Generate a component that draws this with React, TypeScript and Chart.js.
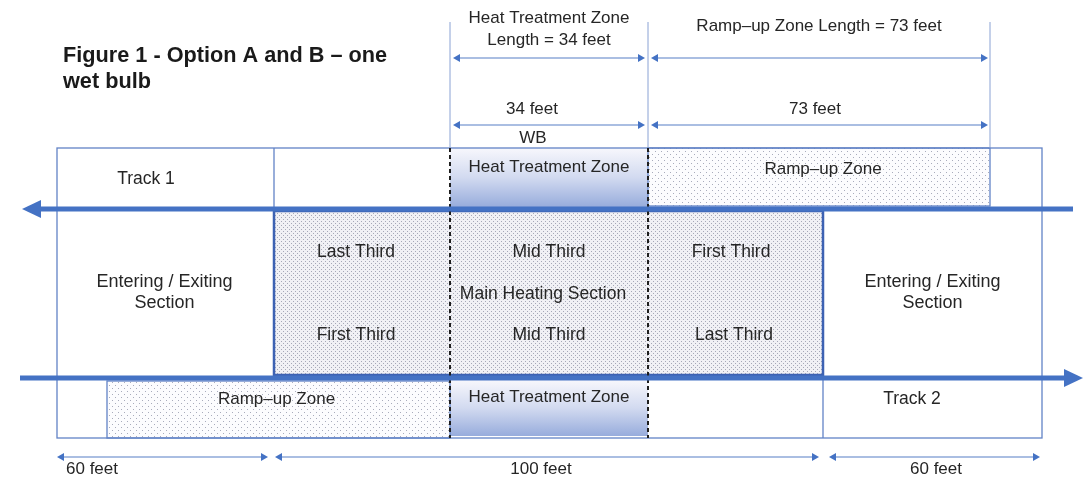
import React, { useEffect, useRef } from "react";
import { Chart, registerables } from "chart.js";

Chart.register(...registerables);

// ---- Content / values ----
const titleLines = ["Figure 1 - Option A and B – one", "wet bulb"];
const sectionLabels = ["Entering / Exiting\nSection", "Main Heating Section", "Entering / Exiting\nSection"];
const sectionLengthsFt = [60, 100, 60];
const zoneLabels = ["Heat Treatment Zone", "Ramp–up Zone"];
const zoneLengthsFt = [34, 73];
const track1Thirds = ["Last Third", "Mid Third", "First Third"];
const track2Thirds = ["First Third", "Mid Third", "Last Third"];
const trackLabels = ["Track 1", "Track 2"];
const wetBulbLabel = "WB";

// ---- Diagram layout (diagram units on the hidden linear scales) ----
const sectionX = [57, 274, 823, 1042];
const track1ZoneX = [450, 648, 990];
const track2ZoneX = [107, 450, 648];
const thirdLabelX1 = [356, 549, 731];
const thirdLabelX2 = [356, 549, 734];
const rowY = { top: 148, track1: 209, mainTop: 211, mainBottom: 375, track2: 378, bottom: 438 };
const dimY = { zoneTitle: 58, zoneLen: 125, section: 457 };

const FONT = '"Liberation Sans", Arial, sans-serif';
const TEXT = "#262626";
const BLUE = "#4472c4";
const THIN = "#6283c6";

type Dim = { x0: number; x1: number; y: number };

const dims: Dim[] = [
  { x0: track1ZoneX[0] + 3, x1: track1ZoneX[1] - 3, y: dimY.zoneTitle },
  { x0: track1ZoneX[1] + 3, x1: track1ZoneX[2] - 2, y: dimY.zoneTitle },
  { x0: track1ZoneX[0] + 3, x1: track1ZoneX[1] - 3, y: dimY.zoneLen },
  { x0: track1ZoneX[1] + 3, x1: track1ZoneX[2] - 2, y: dimY.zoneLen },
  { x0: sectionX[0], x1: sectionX[1] - 6, y: dimY.section },
  { x0: sectionX[1] + 1, x1: sectionX[2] - 4, y: dimY.section },
  { x0: sectionX[2] + 6, x1: sectionX[3] - 2, y: dimY.section },
];

const tracks = [
  { from: 1073, to: 22, y: rowY.track1 },
  { from: 20, to: 1083, y: rowY.track2 },
];

function makePattern(ctx: CanvasRenderingContext2D, size: number, bg: string, dot: string, pts: number[][]) {
  const c = document.createElement("canvas");
  c.width = size;
  c.height = size;
  const g = c.getContext("2d")!;
  g.fillStyle = bg;
  g.fillRect(0, 0, size, size);
  g.fillStyle = dot;
  pts.forEach(([x, y]) => g.fillRect(x, y, 1, 1));
  return ctx.createPattern(c, "repeat")!;
}

const diagramPlugin = {
  id: "diagram",
  beforeDatasetsDraw(chart: any) {
    const { ctx, scales } = chart;
    const X = (v: number) => scales.x.getPixelForValue(v);
    const Y = (v: number) => scales.y.getPixelForValue(v);
    const rect = (x0: number, y0: number, x1: number, y1: number) => [X(x0), Y(y0), X(x1) - X(x0), Y(y1) - Y(y0)] as const;
    ctx.save();
    ctx.fillStyle = "#ffffff";
    ctx.fillRect(0, 0, chart.width, chart.height);

    const sparse = makePattern(ctx, 6, "#fcfcfe", "#a9acbc", [[1, 1], [4, 4]]);
    const dense = makePattern(ctx, 4, "#f1f1f5", "#a6a8b8", [[1, 1], [3, 3]]);
    const heatGrad = (y0: number, y1: number) => {
      const g = ctx.createLinearGradient(0, Y(y0), 0, Y(y1));
      g.addColorStop(0, "#f7f7fc");
      g.addColorStop(0.5, "#d2daf0");
      g.addColorStop(1, "#97acdc");
      return g;
    };

    // fills
    ctx.fillStyle = dense;
    ctx.fillRect(...rect(sectionX[1], rowY.mainTop, sectionX[2], rowY.mainBottom));
    ctx.fillStyle = sparse;
    ctx.fillRect(...rect(track1ZoneX[1], rowY.top, track1ZoneX[2], rowY.track1 - 3));
    ctx.fillRect(...rect(track2ZoneX[0], rowY.track2 + 3, track2ZoneX[1], rowY.bottom));
    ctx.fillStyle = heatGrad(rowY.top, rowY.track1 - 2);
    ctx.fillRect(...rect(track1ZoneX[0], rowY.top, track1ZoneX[1], rowY.track1 - 2));
    ctx.fillStyle = heatGrad(rowY.track2 + 2, rowY.bottom - 2);
    ctx.fillRect(...rect(track2ZoneX[1], rowY.track2 + 2, track2ZoneX[2], rowY.bottom - 2));

    // thin lines
    ctx.strokeStyle = THIN;
    ctx.lineWidth = 1.3;
    const line = (x0: number, y0: number, x1: number, y1: number) => {
      ctx.beginPath();
      ctx.moveTo(X(x0), Y(y0));
      ctx.lineTo(X(x1), Y(y1));
      ctx.stroke();
    };
    ctx.strokeRect(...rect(sectionX[0], rowY.top, sectionX[3], rowY.bottom));
    line(sectionX[1], rowY.top, sectionX[1], rowY.track1);
    ctx.strokeRect(...rect(track1ZoneX[1], rowY.top, track1ZoneX[2], rowY.track1 - 3));
    ctx.strokeRect(...rect(track2ZoneX[0], rowY.track2 + 3, track2ZoneX[1], rowY.bottom));
    line(sectionX[2], rowY.track2, sectionX[2], rowY.bottom);
    // guide lines for dimensions
    ctx.strokeStyle = "#8aa2d4";
    ctx.lineWidth = 1;
    track1ZoneX.forEach((x) => line(x, 22, x, rowY.top));

    // main heating section border
    ctx.strokeStyle = "#3d62b3";
    ctx.lineWidth = 2.5;
    ctx.strokeRect(...rect(sectionX[1], rowY.mainTop, sectionX[2], rowY.mainBottom));

    // dashed heat treatment boundaries
    ctx.strokeStyle = "#1e1e1e";
    ctx.lineWidth = 2;
    ctx.setLineDash([4, 3]);
    [track1ZoneX[0], track1ZoneX[1]].forEach((x) => line(x, rowY.top, x, rowY.bottom));
    ctx.setLineDash([]);
    ctx.restore();
  },
  afterDatasetsDraw(chart: any) {
    const { ctx, scales } = chart;
    const X = (v: number) => scales.x.getPixelForValue(v);
    const Y = (v: number) => scales.y.getPixelForValue(v);
    ctx.save();

    // arrowheads
    const head = (tipX: number, y: number, dir: number, len: number, half: number, color: string) => {
      ctx.fillStyle = color;
      ctx.beginPath();
      ctx.moveTo(X(tipX), Y(y));
      ctx.lineTo(X(tipX) - dir * len, Y(y) - half);
      ctx.lineTo(X(tipX) - dir * len, Y(y) + half);
      ctx.closePath();
      ctx.fill();
    };
    tracks.forEach((t) => head(t.to, t.y, t.to > t.from ? 1 : -1, 19, 9, BLUE));
    dims.forEach((d) => {
      head(d.x0, d.y, -1, 7, 4, BLUE);
      head(d.x1, d.y, 1, 7, 4, BLUE);
    });

    // text
    ctx.textBaseline = "alphabetic";
    const text = (s: string, x: number, y: number, size: number, opts: { bold?: boolean; align?: CanvasTextAlign; lh?: number } = {}) => {
      ctx.font = `${opts.bold ? "bold " : ""}${size}px ${FONT}`;
      ctx.textAlign = opts.align || "center";
      ctx.fillStyle = opts.bold ? "#1a1a1a" : TEXT;
      s.split("\n").forEach((ln, i) => ctx.fillText(ln, X(x), Y(y + i * (opts.lh || 21))));
    };

    titleLines.forEach((t, i) => text(t, 63, 62 + i * 26, 21.7, { bold: true, align: "left" }));

    const hz = (track1ZoneX[0] + track1ZoneX[1]) / 2;
    const rz = (track1ZoneX[1] + track1ZoneX[2]) / 2;
    text(`${zoneLabels[0]}\nLength = ${zoneLengthsFt[0]} feet`, hz, 23, 17, { lh: 22 });
    text(`${zoneLabels[1]} Length = ${zoneLengthsFt[1]} feet`, rz, 31, 17);
    text(`${zoneLengthsFt[0]} feet`, hz - 17, 114, 17);
    text(wetBulbLabel, hz - 16, 143, 17);
    text(`${zoneLengthsFt[1]} feet`, rz - 4, 114, 17);

    text(trackLabels[0], 146, 184, 17.5);
    text(zoneLabels[0], hz, 172, 17);
    text(zoneLabels[1], rz + 4, 174, 17);

    track1Thirds.forEach((t, i) => text(t, thirdLabelX1[i], 257, 17.5));
    track2Thirds.forEach((t, i) => text(t, thirdLabelX2[i], 340, 17.5));
    text(sectionLabels[1], hz - 6, 299, 17.5);
    text(sectionLabels[0], (sectionX[0] + sectionX[1]) / 2 - 1, 287, 18);
    text(sectionLabels[2], (sectionX[2] + sectionX[3]) / 2, 287, 18);

    text(zoneLabels[1], (track2ZoneX[0] + track2ZoneX[1]) / 2 - 2, 404, 17);
    text(zoneLabels[0], (track2ZoneX[1] + track2ZoneX[2]) / 2, 402, 17);
    text(trackLabels[1], 912, 404, 17.5);

    const secCenters = [92, 541, 936];
    sectionLengthsFt.forEach((v, i) => text(`${v} feet`, secCenters[i], 474, 17));

    ctx.restore();
  },
};

export default function App() {
  const ref = useRef<HTMLCanvasElement | null>(null);
  useEffect(() => {
    document.body.style.margin = "0";
    const canvas = ref.current!;
    const lineDs = (pts: { x: number; y: number }[], color: string, width: number, label: string) => ({
      label,
      data: pts,
      borderColor: color,
      borderWidth: width,
      pointRadius: 0,
      fill: false,
      tension: 0,
    });
    const datasets = [
      ...tracks.map((t, i) =>
        lineDs(
          [
            { x: t.from, y: t.y },
            { x: t.to + (t.to > t.from ? -15 : 15), y: t.y },
          ],
          BLUE,
          5,
          trackLabels[i]
        )
      ),
      ...dims.map((d, i) =>
        lineDs(
          [
            { x: d.x0 + 4, y: d.y },
            { x: d.x1 - 4, y: d.y },
          ],
          "#8ea8d8",
          1.6,
          `dim${i}`
        )
      ),
    ];
    const chart = new Chart(canvas, {
      type: "line",
      data: { datasets },
      options: {
        responsive: false,
        animation: false,
        events: [],
        layout: { padding: 0 },
        plugins: { legend: { display: false }, tooltip: { enabled: false }, title: { display: false } },
        scales: {
          x: { type: "linear", min: 0, max: 1090, display: false },
          y: { type: "linear", min: 0, max: 493, reverse: true, display: false },
        },
      },
      plugins: [diagramPlugin],
    });
    return () => chart.destroy();
  }, []);
  return <canvas ref={ref} width={1090} height={493} style={{ display: "block" }} />;
}
